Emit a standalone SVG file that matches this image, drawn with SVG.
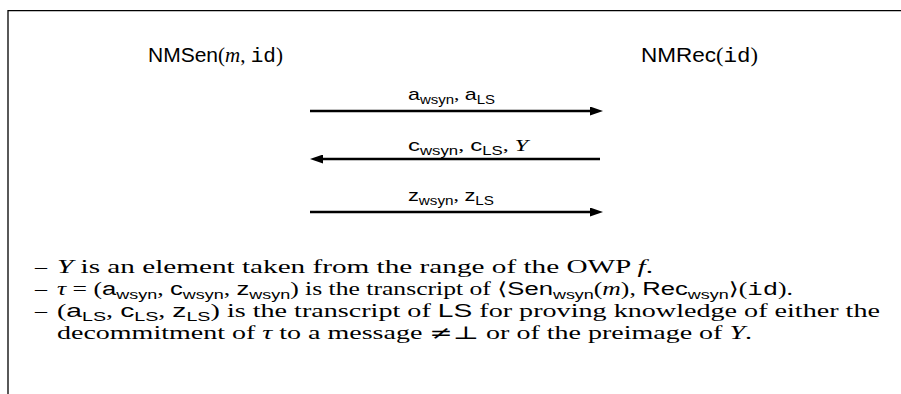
<svg xmlns="http://www.w3.org/2000/svg" width="901" height="394" viewBox="0 0 901 394">
  <style>
    .sf { font-family: "Liberation Sans", "DejaVu Sans", sans-serif; }
    .rm { font-family: "Liberation Serif", "DejaVu Serif", serif; }
    .it { font-family: "Liberation Serif", "DejaVu Serif", serif; font-style: italic; }
    .tt { font-family: "Liberation Mono", "DejaVu Sans Mono", monospace; }
    .sym { font-family: "DejaVu Serif", "Liberation Serif", serif; }
    .head { font-size: 20px; fill: #000; }
    .lbl { font-size: 17px; fill: #000; }
    .note { font-size: 18px; fill: #000; font-family: "Liberation Serif", "DejaVu Serif", serif; }
    .sub { font-size: 0.7em; }
    .frame { stroke: #000; stroke-width: 1.3; fill: none; }
    .msg { stroke: #000; stroke-width: 2.5; fill: none; }
  </style>
  <defs>
    <marker id="ah" viewBox="0 0 13 9" refX="0" refY="4.5" markerWidth="13" markerHeight="9" markerUnits="userSpaceOnUse" orient="auto">
      <path d="M0,0 L13,4.5 L0,9 Z" fill="#000"/>
    </marker>
  </defs>
  <rect x="0" y="0" width="901" height="394" fill="#fff"/>
  <path class="frame" d="M8,394 V10.7 H901"/>

  <g id="sender">
    <text class="head" x="148" y="62" textLength="135" lengthAdjust="spacingAndGlyphs"><tspan class="sf">NMSen</tspan><tspan class="rm">(</tspan><tspan class="it">m</tspan><tspan class="rm">, </tspan><tspan class="tt">id</tspan><tspan class="rm">)</tspan></text>
  </g>
  <g id="receiver">
    <text class="head" x="641" y="62" textLength="117" lengthAdjust="spacingAndGlyphs"><tspan class="sf">NMRec</tspan><tspan class="rm">(</tspan><tspan class="tt">id</tspan><tspan class="rm">)</tspan></text>
  </g>

  <g id="connectors">
    <line class="msg" x1="310" y1="111" x2="590" y2="111" marker-end="url(#ah)"/>
    <line class="msg" x1="600" y1="159" x2="323" y2="159" marker-end="url(#ah)"/>
    <line class="msg" x1="310" y1="212" x2="590" y2="212" marker-end="url(#ah)"/>
    <text class="lbl" x="408" y="100" textLength="87" lengthAdjust="spacingAndGlyphs"><tspan class="sf">a</tspan><tspan class="sf sub" dy="4">wsyn</tspan><tspan class="rm" dy="-4">, </tspan><tspan class="sf">a</tspan><tspan class="sf sub" dy="4">LS</tspan></text>
    <text class="lbl" x="408" y="151" textLength="120" lengthAdjust="spacingAndGlyphs"><tspan class="sf">c</tspan><tspan class="sf sub" dy="4">wsyn</tspan><tspan class="rm" dy="-4">, </tspan><tspan class="sf">c</tspan><tspan class="sf sub" dy="4">LS</tspan><tspan class="rm" dy="-4">, </tspan><tspan class="it">Y</tspan></text>
    <text class="lbl" x="408" y="201" textLength="86" lengthAdjust="spacingAndGlyphs"><tspan class="sf">z</tspan><tspan class="sf sub" dy="4">wsyn</tspan><tspan class="rm" dy="-4">, </tspan><tspan class="sf">z</tspan><tspan class="sf sub" dy="4">LS</tspan></text>
  </g>

  <g id="notes">
    <text class="note" x="35" y="273" textLength="12" lengthAdjust="spacingAndGlyphs">–</text>
    <text class="note" x="35" y="295" textLength="12" lengthAdjust="spacingAndGlyphs">–</text>
    <text class="note" x="35" y="317" textLength="12" lengthAdjust="spacingAndGlyphs">–</text>
    <text class="note" x="57" y="273" textLength="596" lengthAdjust="spacingAndGlyphs"><tspan class="it">Y</tspan> is an element taken from the range of the OWP <tspan class="it">f</tspan>.</text>
    <text class="note" x="57" y="295" textLength="736" lengthAdjust="spacingAndGlyphs"><tspan class="it">τ</tspan> = (<tspan class="sf">a</tspan><tspan class="sf sub" dy="4">wsyn</tspan><tspan dy="-4">, </tspan><tspan class="sf">c</tspan><tspan class="sf sub" dy="4">wsyn</tspan><tspan dy="-4">, </tspan><tspan class="sf">z</tspan><tspan class="sf sub" dy="4">wsyn</tspan><tspan dy="-4">) is the transcript of </tspan><tspan class="sym">⟨</tspan><tspan class="sf">Sen</tspan><tspan class="sf sub" dy="4">wsyn</tspan><tspan dy="-4">(</tspan><tspan class="it">m</tspan>), <tspan class="sf">Rec</tspan><tspan class="sf sub" dy="4">wsyn</tspan><tspan class="sym" dy="-4">⟩</tspan>(<tspan class="tt">id</tspan>).</text>
    <text class="note" x="57" y="317" textLength="823" lengthAdjust="spacingAndGlyphs">(<tspan class="sf">a</tspan><tspan class="sf sub" dy="4">LS</tspan><tspan dy="-4">, </tspan><tspan class="sf">c</tspan><tspan class="sf sub" dy="4">LS</tspan><tspan dy="-4">, </tspan><tspan class="sf">z</tspan><tspan class="sf sub" dy="4">LS</tspan><tspan dy="-4">) is the transcript of </tspan><tspan class="sf">LS</tspan> for proving knowledge of either the</text>
    <text class="note" x="57" y="339" textLength="695" lengthAdjust="spacingAndGlyphs">decommitment of <tspan class="it">τ</tspan> to a message <tspan class="sym">≠⊥</tspan> or of the preimage of <tspan class="it">Y</tspan>.</text>
  </g>
</svg>
